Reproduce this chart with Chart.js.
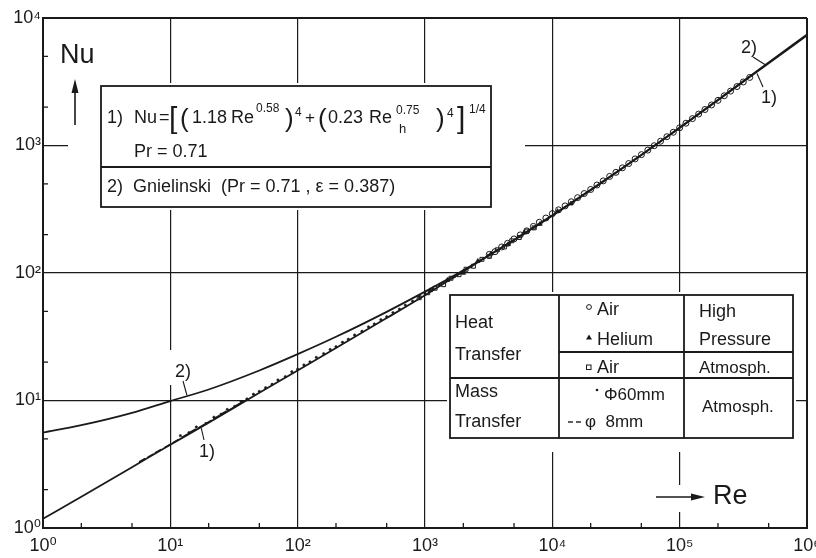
<!DOCTYPE html>
<html>
<head>
<meta charset="utf-8">
<script src="https://cdn.jsdelivr.net/npm/chart.js@4.4.1/dist/chart.umd.min.js"></script>
<style>
  html, body { margin: 0; padding: 0; background: #fff; }
  #wrap { width: 816px; height: 558px; }
</style>
</head>
<body>
<div id="wrap"><canvas id="nuChart" width="816" height="558"></canvas></div>
<script>
// decade ticks
const xTickValues = [1, 10, 100, 1e3, 1e4, 1e5, 1e6];
const xTickLabels = ['10⁰', '10¹', '10²', '10³', '10⁴', '10⁵', '10⁶'];
const yTickValues = [1, 10, 100, 1e3, 1e4];
const yTickLabels = ['10⁰', '10¹', '10²', '10³', '10⁴'];

// curve 1) correlation, curve 2) Gnielinski
const reCurve  = [1, 2, 5, 10, 20, 50, 100, 200, 500, 1000, 2000, 5000, 1e4, 2e4, 5e4, 1e5, 2e5, 5e5, 1e6];
const nuCurve1 = [1.18, 1.76, 3.0, 4.5, 6.7, 11.5, 17.2, 25.8, 44.3, 67, 103, 182, 284, 450, 844, 1374, 2263, 4420, 7300];
const nuCurve2 = [5.6, 6.4, 8.0, 9.9, 12.2, 17.2, 23.1, 31.6, 49.6, 71.4, 105, 181, 281, 445, 842, 1385, 2290, 4480, 7420];

// mass transfer, 8 mm (dashes)
const reMass8 = [6, 7, 8, 9.5, 11, 13, 15, 17.5, 20, 23, 26, 30, 34, 38];
const nuMass8 = [3.4, 3.7, 4.0, 4.4, 4.8, 5.3, 5.8, 6.3, 6.8, 7.4, 8.0, 8.6, 9.3, 9.9];

// mass transfer, 60 mm (dots)
const reMass60 = [12, 14, 16, 19, 22, 25, 28, 32, 36, 40, 45, 50, 56, 63, 70, 80, 90, 100, 112, 125, 140, 160,
                  180, 200, 225, 250, 280, 320, 360, 400, 450, 500, 560, 630, 700, 800, 900, 1000, 1150, 1300,
                  1500, 1700, 2000, 2300];
const nuMass60 = [5.3, 5.6, 6.2, 6.6, 7.4, 7.8, 8.5, 9.0, 9.8, 10.3, 11.2, 11.8, 12.6, 13.4, 14.5, 15.4, 16.8,
                  17.6, 19.0, 20.1, 21.8, 23.3, 25.1, 26.4, 28.6, 30.2, 32.6, 34.9, 37.8, 39.8, 43.0, 45.4,
                  48.9, 52.1, 56.0, 60.1, 65.0, 68.4, 75.0, 80.2, 88.0, 93.5, 104, 112];

// heat transfer, air, atmospheric (squares)
const reHeatAtm = [900, 1050, 1200, 1400, 1600, 1850, 2100, 2400, 2800, 3200, 3700, 4200, 4800, 5500, 6300, 7200];
const nuHeatAtm = [64, 70, 76, 81, 91, 97, 107, 113, 128, 135, 152, 160, 179, 190, 213, 226];

// heat transfer, helium, high pressure (triangles)
const reHelium = [1100, 1500, 2000, 2600, 3300, 4500, 6000, 8000, 11000, 14000];
const nuHelium = [73, 88, 100, 124, 142, 168, 207, 242, 305, 350];

// heat transfer, air, high pressure (circles)
const reHeatHP = [3200, 3550, 4000, 4450, 5000, 5600, 6300, 7100, 7900, 8900, 10000, 11200, 12600, 14100, 15800,
                  17800, 20000, 22400, 25100, 28200, 31600, 35500, 39800, 44700, 50100, 56200, 63100, 70800,
                  79400, 89100, 100000, 112000, 126000, 141000, 158000, 178000, 200000, 224000, 251000,
                  282000, 316000, 355000];
const nuHeatHP = [140, 147, 160, 171, 185, 199, 214, 232, 250, 270, 292, 313, 336, 362, 390, 420, 452, 490, 528,
                  572, 616, 668, 722, 785, 848, 920, 996, 1080, 1172, 1270, 1378, 1495, 1625, 1765, 1915, 2080,
                  2260, 2455, 2670, 2900, 3150, 3420];

const FONT = '"Liberation Sans", "DejaVu Sans", Arial, sans-serif';
const INK = '#1a1a1a';

const pts = (xs, ys) => xs.map((x, i) => ({ x: x, y: ys[i] }));

function text(ctx, s, x, y, size, maxW) {
  ctx.font = size + 'px ' + FONT;
  ctx.textAlign = 'left';
  ctx.textBaseline = 'alphabetic';
  if (maxW) ctx.fillText(s, x, y, maxW); else ctx.fillText(s, x, y);
}

function seg(ctx, x1, y1, x2, y2) {
  ctx.beginPath();
  ctx.moveTo(x1, y1);
  ctx.lineTo(x2, y2);
  ctx.stroke();
}

function arrow(ctx, x1, y1, x2, y2) {
  const a = Math.atan2(y2 - y1, x2 - x1);
  const c = Math.cos(a), s = Math.sin(a);
  seg(ctx, x1, y1, x2 - 6 * c, y2 - 6 * s);
  ctx.beginPath();
  ctx.moveTo(x2, y2);
  ctx.lineTo(x2 - 14 * c + 3.5 * s, y2 - 14 * s - 3.5 * c);
  ctx.lineTo(x2 - 14 * c - 3.5 * s, y2 - 14 * s + 3.5 * c);
  ctx.closePath();
  ctx.fill();
}

const paperPlugin = {
  id: 'paper',
  beforeDatasetsDraw(chart) {
    const { ctx, scales: { x, y } } = chart;
    const y3 = y.getPixelForValue(1e3);
    ctx.save();
    ctx.fillStyle = '#fff';
    // breaks in the grid around boxes and labels
    ctx.fillRect(99, 83, 396, 127);
    ctx.fillRect(68, y3 - 4, 31, 8);
    ctx.fillRect(495, y3 - 4, 30, 8);
    ctx.fillRect(447, 292, 349, 160);
    ctx.fillRect(x.getPixelForValue(1e5) - 5, 485, 10, 27);
    ctx.fillRect(x.getPixelForValue(10) - 5, 350, 10, 35);
    ctx.restore();
  },
  afterDatasetsDraw(chart) {
    const { ctx, chartArea: area, scales: { x, y } } = chart;
    ctx.save();
    ctx.strokeStyle = INK;
    ctx.fillStyle = INK;
    ctx.lineWidth = 1.3;

    // minor ticks at 2 and 5, pointing inward
    xTickValues.slice(0, -1).forEach(d => {
      [2, 5].forEach(m => {
        const px = x.getPixelForValue(d * m);
        seg(ctx, px, area.bottom, px, area.bottom - 5);
      });
    });
    yTickValues.slice(0, -1).forEach(d => {
      [2, 5].forEach(m => {
        const py = y.getPixelForValue(d * m);
        seg(ctx, area.left, py, area.left + 5, py);
      });
    });

    // formula box
    ctx.fillStyle = '#fff';
    ctx.fillRect(101, 86, 390, 121);
    ctx.fillStyle = INK;
    ctx.lineWidth = 1.8;
    ctx.strokeRect(101, 86, 390, 121);
    seg(ctx, 101, 167, 491, 167);
    const formula = [
      ['1)', 107, 123, 18], ['Nu', 134, 123, 18], ['=', 159, 123, 18],
      ['[', 169, 128, 30], ['(', 180, 127, 26], ['1.18', 192, 123, 18], ['Re', 231, 123, 18],
      ['0.58', 256, 112, 12], [')', 285, 127, 26], ['4', 295, 116, 12], ['+', 305, 123, 17],
      ['(', 318, 127, 26], ['0.23', 328, 123, 18], ['Re', 369, 123, 18],
      ['0.75', 396, 114, 12], ['h', 399, 133, 13], [')', 436, 127, 26], ['4', 447, 117, 12],
      [']', 457, 128, 30], ['1/4', 469, 113, 12]
    ];
    formula.forEach(f => text(ctx, f[0], f[1], f[2], f[3]));
    text(ctx, 'Pr = 0.71', 134, 157, 18);
    text(ctx, '2)  Gnielinski  (Pr = 0.71 , ε = 0.387)', 107, 192, 18, 332);

    // legend table
    ctx.fillStyle = '#fff';
    ctx.fillRect(450, 295, 343, 143);
    ctx.fillStyle = INK;
    ctx.strokeRect(450, 295, 343, 143);
    seg(ctx, 559, 295, 559, 438);
    seg(ctx, 684, 295, 684, 438);
    seg(ctx, 559, 352, 793, 352);
    seg(ctx, 450, 378, 793, 378);
    text(ctx, 'Heat', 455, 328, 18);
    text(ctx, 'Transfer', 455, 360, 18);
    text(ctx, 'Mass', 455, 397, 18);
    text(ctx, 'Transfer', 455, 427, 18);
    ctx.lineWidth = 1;
    ctx.beginPath(); ctx.arc(589, 307, 2.4, 0, Math.PI * 2); ctx.stroke();
    text(ctx, 'Air', 597, 315, 18);
    ctx.beginPath(); ctx.moveTo(589, 334.5); ctx.lineTo(592, 339.5); ctx.lineTo(586, 339.5); ctx.closePath(); ctx.fill();
    text(ctx, 'Helium', 597, 345, 18);
    ctx.strokeRect(586.5, 365, 4.5, 4.5);
    text(ctx, 'Air', 597, 373, 18);
    ctx.beginPath(); ctx.arc(597, 390, 1.3, 0, Math.PI * 2); ctx.fill();
    text(ctx, 'Φ60mm', 604, 400, 17);
    ctx.lineWidth = 1.4;
    seg(ctx, 568, 422, 573, 422);
    seg(ctx, 576, 422, 581, 422);
    text(ctx, 'φ  8mm', 585, 427, 17);
    text(ctx, 'High', 699, 317, 18);
    text(ctx, 'Pressure', 699, 345, 18);
    text(ctx, 'Atmosph.', 699, 373, 17);
    text(ctx, 'Atmosph.', 702, 412, 17);

    // axis names with arrows
    ctx.lineWidth = 1.6;
    text(ctx, 'Nu', 60, 63, 27);
    arrow(ctx, 75, 125, 75, 79);
    text(ctx, 'Re', 713, 504, 27);
    arrow(ctx, 656, 497, 705, 497);

    // curve labels with leaders
    ctx.lineWidth = 1.1;
    text(ctx, '2)', 175, 377, 18);
    seg(ctx, 183, 381, x.getPixelForValue(13.5), y.getPixelForValue(10.8) - 1);
    text(ctx, '1)', 199, 457, 18);
    seg(ctx, x.getPixelForValue(17.5), y.getPixelForValue(6.3) + 2, 204, 440);
    text(ctx, '2)', 741, 53, 18);
    seg(ctx, 753, 57, x.getPixelForValue(4.7e5), y.getPixelForValue(4300));
    text(ctx, '1)', 761, 103, 18);
    seg(ctx, x.getPixelForValue(4.05e5), y.getPixelForValue(3800) + 2, 763, 87);
    ctx.restore();
  }
};

const edgeWidth = (lo, hi) => c => (c.tick && (c.tick.value === lo || c.tick.value === hi)) ? 2 : 1.2;

new Chart('nuChart', {
  type: 'scatter',
  data: {
    datasets: [
      { label: '1)', type: 'line', data: pts(reCurve, nuCurve1), borderColor: INK, borderWidth: 1.8,
        pointRadius: 0, tension: 0.4, cubicInterpolationMode: 'monotone', fill: false },
      { label: '2)', type: 'line', data: pts(reCurve, nuCurve2), borderColor: INK, borderWidth: 1.8,
        pointRadius: 0, tension: 0.4, cubicInterpolationMode: 'monotone', fill: false },
      { label: 'Air, high pressure', data: pts(reHeatHP, nuHeatHP), pointStyle: 'circle', pointRadius: 3,
        borderColor: INK, borderWidth: 1, backgroundColor: 'rgba(0,0,0,0)' },
      { label: 'Air, atmosph.', data: pts(reHeatAtm, nuHeatAtm), pointStyle: 'rect', pointRadius: 2.8,
        borderColor: INK, borderWidth: 1, backgroundColor: 'rgba(0,0,0,0)' },
      { label: 'Helium', data: pts(reHelium, nuHelium), pointStyle: 'triangle', pointRadius: 2.6,
        borderColor: INK, borderWidth: 0.8, backgroundColor: INK },
      { label: 'Φ 60 mm', data: pts(reMass60, nuMass60), pointStyle: 'circle', pointRadius: 1.2,
        borderColor: INK, borderWidth: 0.5, backgroundColor: INK },
      { label: 'φ 8 mm', data: pts(reMass8, nuMass8), pointStyle: 'line', pointRotation: -30, pointRadius: 3.5,
        borderColor: INK, borderWidth: 1.5 }
    ]
  },
  options: {
    responsive: false,
    animation: false,
    events: [],
    layout: { padding: { top: 18, right: 9, left: 0, bottom: 0 } },
    plugins: { legend: { display: false }, tooltip: { enabled: false } },
    scales: {
      x: {
        type: 'logarithmic', min: 1, max: 1e6,
        afterBuildTicks: s => { s.ticks = xTickValues.map(v => ({ value: v })); },
        afterFit: s => { s.height = 30; s.paddingLeft = 0; s.paddingRight = 0; },
        ticks: { callback: v => xTickLabels[xTickValues.indexOf(v)], autoSkip: false, maxRotation: 0,
                 padding: 7, color: INK, font: { family: FONT, size: 18 } },
        grid: { color: INK, lineWidth: edgeWidth(1, 1e6), drawTicks: false },
        border: { display: true, color: INK, width: 2 }
      },
      y: {
        type: 'logarithmic', min: 1, max: 1e4,
        afterBuildTicks: s => { s.ticks = yTickValues.map(v => ({ value: v })); },
        afterFit: s => { s.width = 43; s.paddingTop = 0; s.paddingBottom = 0; },
        ticks: { callback: v => yTickLabels[yTickValues.indexOf(v)], autoSkip: false,
                 padding: 2, color: INK, font: { family: FONT, size: 18 } },
        grid: { color: INK, lineWidth: edgeWidth(1, 1e4), drawTicks: false },
        border: { display: true, color: INK, width: 2 }
      }
    }
  },
  plugins: [paperPlugin]
});
</script>
</body>
</html>
